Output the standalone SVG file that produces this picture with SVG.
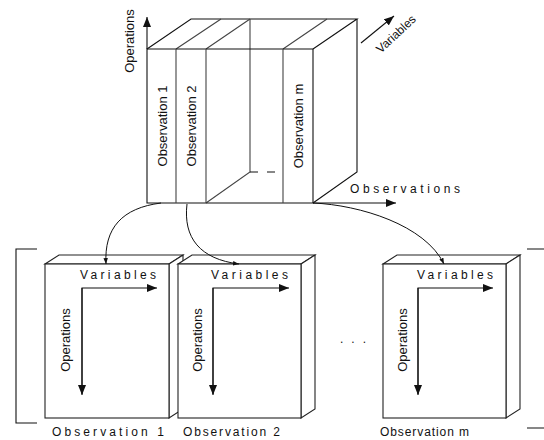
<svg xmlns="http://www.w3.org/2000/svg" width="544" height="440" viewBox="0 0 544 440">
  <style>
    .ln { fill: none; stroke: #111; stroke-width: 1.1; }
    .dv { fill: none; stroke: #444; stroke-width: 1.1; }
    .face { fill: #fff; stroke: #222; stroke-width: 1.1; stroke-linejoin: miter; }
    .ax { fill: none; stroke: #111; stroke-width: 1.1; }
    .cn { fill: none; stroke: #111; stroke-width: 1; }
    text { font-family: "Liberation Sans", Arial, sans-serif; fill: #111; }
    .lab { font-size: 12px; }
    .rot { font-size: 13px; dominant-baseline: central; text-anchor: middle; }
  </style>
  <defs>
    <marker id="tri" viewBox="0 0 10 8" refX="10" refY="4" markerWidth="10" markerHeight="8" markerUnits="userSpaceOnUse" orient="auto">
      <path d="M0,0 L10,4 L0,8 Z" fill="#111"/>
    </marker>
    <marker id="tip" viewBox="0 0 8 6" refX="8" refY="3" markerWidth="6" markerHeight="5" markerUnits="userSpaceOnUse" orient="auto">
      <path d="M0,0 L8,3 L0,6 Z" fill="#111"/>
    </marker>
  </defs>

  <!-- data cube: operations x variables x observations -->
  <g id="cube">
    <!-- top face -->
    <path class="ln" d="M147,49 L191,19 L357,19 L313,49"/>
    <path class="dv" d="M176,49 L221,19 M206,49 L250,19 M283,49 L327,19"/>
    <!-- right face -->
    <path class="ln" d="M357,19 L357,172 L313,203"/>
    <!-- inner back edge of the open section -->
    <path class="dv" d="M250,19 L250,172 L206,203"/>
    <path class="ln" d="M250,172 L258,172 M267,172 L275,172"/>
    <!-- front face and slab dividers -->
    <path class="ln" d="M147,49 L313,49 L313,203 L147,203 Z"/>
    <path class="dv" d="M176,49 L176,203 M206,49 L206,203 M283,49 L283,203"/>
    <text class="rot" transform="translate(162,126) rotate(-90)">Observation 1</text>
    <text class="rot" transform="translate(191,126) rotate(-90)">Observation 2</text>
    <text class="rot" transform="translate(298,126) rotate(-90)">Observation m</text>
  </g>

  <!-- cube axes -->
  <g id="cube-axes">
    <line class="ax" x1="147" y1="49" x2="147" y2="17" marker-end="url(#tri)"/>
    <text class="rot" transform="translate(129,41) rotate(-90)">Operations</text>
    <line class="ax" x1="313" y1="203" x2="396" y2="203" marker-end="url(#tri)"/>
    <text class="lab" x="350" y="193" textLength="110" lengthAdjust="spacing">Observations</text>
    <line class="ax" x1="361" y1="43" x2="394" y2="16" marker-end="url(#tri)"/>
    <text class="lab" transform="translate(396,34) rotate(-43)" text-anchor="middle" dominant-baseline="central">Variables</text>
  </g>

  <!-- bracket enclosing the per-observation matrices -->
  <g id="bracket">
    <path class="ln" d="M37,249 L16,249 L16,423 L37,423"/>
    <path class="ln" d="M527,249 L544,249 M527,428 L544,428"/>
  </g>

  <!-- observation 1 matrix -->
  <g id="obs1">
    <path class="face" d="M45,264 L59,255 L183,255 L169,264 Z"/>
    <path class="face" d="M169,264 L183,255 L183,409 L169,418 Z"/>
    <rect class="face" x="45" y="264" width="124" height="154"/>
    <text class="lab" x="80" y="279" textLength="76" lengthAdjust="spacing">Variables</text>
    <path class="ax" d="M82,394 L82,288 L157,288" marker-end="url(#tri)"/>
    <line class="ax" x1="82" y1="288" x2="82" y2="395" marker-end="url(#tri)"/>
    <text class="rot" transform="translate(65,340) rotate(-90)">Operations</text>
    <text class="lab" x="52" y="436" textLength="112" lengthAdjust="spacing">Observation 1</text>
  </g>

  <!-- observation 2 matrix -->
  <g id="obs2">
    <path class="face" d="M178,264 L192,255 L315,255 L301,264 Z"/>
    <path class="face" d="M301,264 L315,255 L315,409 L301,418 Z"/>
    <rect class="face" x="178" y="264" width="123" height="154"/>
    <text class="lab" x="211" y="279" textLength="77" lengthAdjust="spacing">Variables</text>
    <path class="ax" d="M213,394 L213,288 L289,288" marker-end="url(#tri)"/>
    <line class="ax" x1="213" y1="288" x2="213" y2="395" marker-end="url(#tri)"/>
    <text class="rot" transform="translate(197,340) rotate(-90)">Operations</text>
    <text class="lab" x="183" y="436" textLength="97" lengthAdjust="spacing">Observation 2</text>
  </g>

  <text id="ellipsis" class="lab" x="340" y="343" textLength="26" lengthAdjust="spacing">. . .</text>

  <!-- observation m matrix -->
  <g id="obsm">
    <path class="face" d="M383,264 L397,255 L520,255 L506,264 Z"/>
    <path class="face" d="M506,264 L520,255 L520,409 L506,418 Z"/>
    <rect class="face" x="383" y="264" width="123" height="154"/>
    <text class="lab" x="417" y="279" textLength="76" lengthAdjust="spacing">Variables</text>
    <path class="ax" d="M418,394 L418,288 L493,288" marker-end="url(#tri)"/>
    <line class="ax" x1="418" y1="288" x2="418" y2="395" marker-end="url(#tri)"/>
    <text class="rot" transform="translate(402,340) rotate(-90)">Operations</text>
    <text class="lab" x="380" y="436" textLength="89" lengthAdjust="spacing">Observation m</text>
  </g>

  <!-- slices of the cube unfolded into matrices -->
  <g id="connectors">
    <path class="cn" d="M161,203 C122,208 104,228 106,264" marker-end="url(#tip)"/>
    <path class="cn" d="M187,204 C183,238 200,259 239,264" marker-end="url(#tip)"/>
    <path class="cn" d="M313,203 C360,205 425,225 444,264" marker-end="url(#tip)"/>
  </g>
</svg>
